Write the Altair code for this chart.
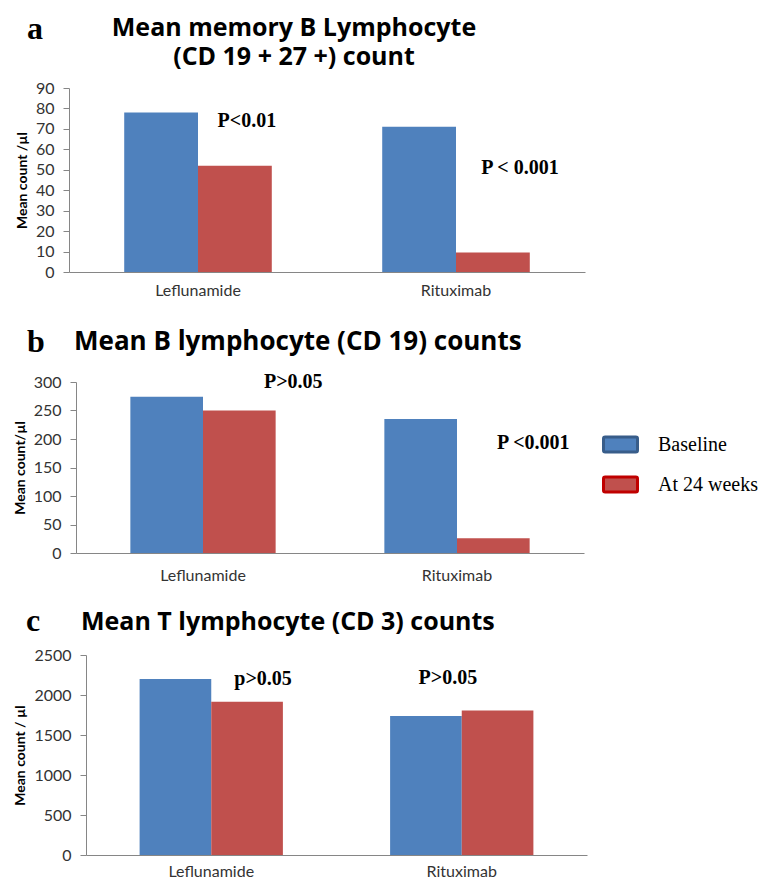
import altair as alt
import pandas as pd

categories = ["Leflunamide", "Rituximab"]
series = ["Baseline", "\u2002At 24 weeks"]

memb_baseline = [78, 71]
memb_24w = [52, 9.5]
b_baseline = [274, 235]
b_24w = [250, 26]
t_baseline = [2200, 1737]
t_24w = [1915, 1805]

ticks_a = [0, 10, 20, 30, 40, 50, 60, 70, 80, 90]
ticks_b = [0, 50, 100, 150, 200, 250, 300]
ticks_c = [0, 500, 1000, 1500, 2000, 2500]

BLUE = "#4F81BD"
RED = "#C0504D"
BLUE_EDGE = "#385D8A"
RED_EDGE = "#C00000"
GRAY = "#868686"
TITLE_FONT = "Open Sans"


def make_df(base, w24):
    rows = []
    for c, v in zip(categories, base):
        rows.append({"category": c, "series": series[0], "value": v})
    for c, v in zip(categories, w24):
        rows.append({"category": c, "series": series[1], "value": v})
    return pd.DataFrame(rows)


LEGEND_PATH = ("M-0.9,-0.44 H0.9 Q1,-0.44 1,-0.34 V0.34 Q1,0.44 0.9,0.44 "
               "H-0.9 Q-1,0.44 -1,0.34 V-0.34 Q-1,-0.44 -0.9,-0.44 Z")


def text_layer(txt, x, y, font, size, align, weight="bold"):
    return alt.Chart(pd.DataFrame({"t": [txt]})).mark_text(
        font=font, fontWeight=weight, fontSize=size, color="black",
        align=align, baseline="middle").encode(
        x=alt.value(x), y=alt.value(y), text="t:N")


def spacer(w):
    return alt.Chart(pd.DataFrame({"t": [""]})).mark_text().encode(
        x=alt.value(0), y=alt.value(0), text="t:N").properties(width=w, height=1)


def panel(df, ymax, ticks, width, height, ytitle, title_lines, title_align,
          title_size, letter, letter_xy, annotations, legend=False, xlabel_pad=10):
    x_enc = alt.X("category:N", sort=categories, title=None,
                  scale=alt.Scale(paddingInner=0.428, paddingOuter=0.214),
                  axis=alt.Axis(ticks=False, labelAngle=0, labelFont="Lato",
                                labelFontSize=16, labelColor="#333333",
                                labelPadding=xlabel_pad, domainColor=GRAY))
    xo_enc = alt.XOffset("series:N", sort=series,
                         scale=alt.Scale(domain=series, paddingInner=0, paddingOuter=0))
    y_enc = alt.Y("value:Q", title=ytitle,
                  scale=alt.Scale(domain=[0, ymax], nice=False),
                  axis=alt.Axis(values=ticks, format="d", grid=False, tickSize=6,
                                tickColor=GRAY, domainColor=GRAY,
                                labelFont="Lato", labelFontSize=16,
                                labelColor="#333333", labelPadding=9,
                                titleFont="Lato", titleFontWeight="bold",
                                titleFontSize=14, titleColor="black",
                                titlePadding=6))
    if legend:
        leg = alt.Legend(title=None, orient="none", legendX=526, legendY=44,
                         symbolType=LEGEND_PATH, symbolSize=1156,
                         symbolStrokeWidth=3, labelFont="Liberation Serif",
                         labelFontSize=20, labelColor="black", labelOffset=19,
                         rowPadding=8, padding=0)
    else:
        leg = None
    bars = alt.Chart(df).mark_bar().encode(
        x=x_enc, xOffset=xo_enc, y=y_enc,
        color=alt.Color("series:N", sort=series,
                        scale=alt.Scale(domain=series, range=[BLUE, RED]),
                        legend=leg),
        stroke=alt.Stroke("series:N", sort=series,
                          scale=alt.Scale(domain=series, range=[BLUE_EDGE, RED_EDGE]),
                          legend=leg),
        strokeWidth=alt.value(0),
    )
    layers = [bars]
    for cat, ser, val, txt, dx in annotations:
        adf = pd.DataFrame({"category": [cat], "series": [ser], "value": [val], "label": [txt]})
        layers.append(
            alt.Chart(adf).mark_text(font="Liberation Serif", fontWeight="bold",
                                     fontSize=20, color="black", dx=dx,
                                     baseline="middle", align="center").encode(
                x=x_enc, xOffset=xo_enc, y=y_enc, text="label:N")
        )
    layers.append(text_layer(letter, letter_xy[0], letter_xy[1],
                             "Liberation Serif", 32, "left"))
    for txt, tx, ty in title_lines:
        layers.append(text_layer(txt, tx, ty, TITLE_FONT, title_size, title_align))
    return alt.layer(*layers).properties(width=width, height=height)


pa = panel(make_df(memb_baseline, memb_24w), 90, ticks_a, 516, 184,
           "Mean count /\u00b5l",
           [("Mean memory B Lymphocyte", 225, -60), ("(CD 19 + 27 +) count", 225, -31)],
           "center", 25,
           "a", (-42, -59),
           [("Leflunamide", series[1], 74, "P<0.01", 12),
            ("Rituximab", series[1], 51, "P < 0.001", 27)],
           xlabel_pad=10)
pb = panel(make_df(b_baseline, b_24w), 300, ticks_b, 508, 171,
           "Mean count/\u00b5l",
           [("Mean B lymphocyte (CD 19) counts", -2, -40)], "left", 26,
           "b", (-49, -40),
           [("Leflunamide", series[1], 300, "P>0.05", 54),
            ("Rituximab", series[1], 193, "P <0.001", 40)],
           legend=True, xlabel_pad=14)
pc = panel(make_df(t_baseline, t_24w), 2500, ticks_c, 501, 200,
           "Mean  count / \u00b5l",
           [("Mean T lymphocyte (CD 3) counts", -5, -33)], "left", 25,
           "c", (-60, -34),
           [("Leflunamide", series[1], 2200, "p>0.05", 16),
            ("Rituximab", "Baseline", 2212, "P>0.05", 22)],
           xlabel_pad=8)

RES = dict(color="independent", stroke="independent", x="independent",
           y="independent", xOffset="independent")


def row(p, w):
    return alt.hconcat(spacer(w), p, spacing=0).resolve_scale(**RES) \
        .resolve_legend(color="independent", stroke="independent")


ra = row(pa, 7)
rb = row(pb, 5)
rc = row(pc, 5)

top = alt.concat(ra, rb, columns=1, spacing=28).resolve_scale(**RES) \
    .resolve_legend(color="independent", stroke="independent")
chart = alt.concat(top, rc, columns=1, spacing=22).resolve_scale(**RES) \
    .resolve_legend(color="independent", stroke="independent") \
    .configure(background="white",
               padding={"left": 0, "top": 5, "right": 5, "bottom": 5}) \
    .configure_view(stroke=None)

chart.save("out.html", embed_options={"renderer": "svg", "actions": False})
